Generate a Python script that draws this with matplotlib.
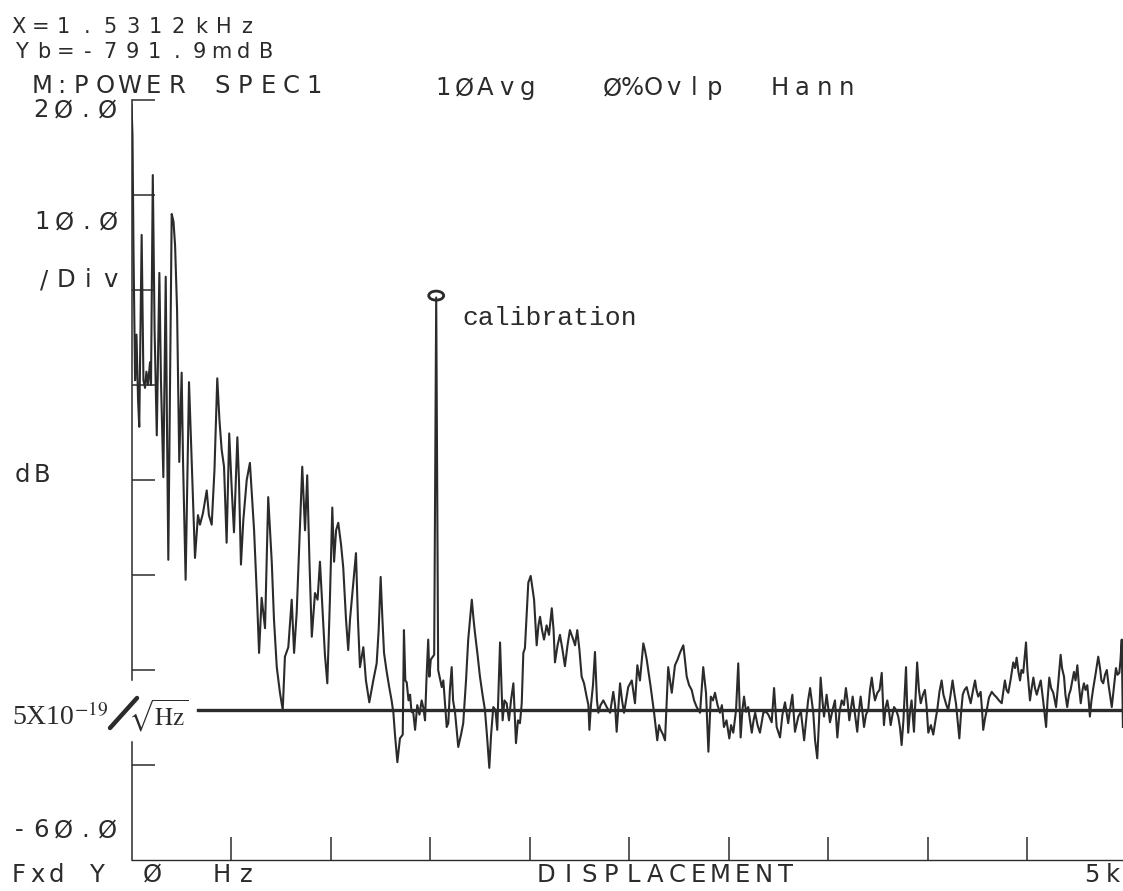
import numpy as np
import matplotlib.pyplot as plt
from matplotlib.lines import Line2D
from matplotlib.patches import Ellipse

plt.rcParams['mathtext.fontset'] = 'stix'

# marker readout and noise floor
marker_freq = 1531.2      # Hz
marker_db = -0.7919       # dB
floor_db = -44.2
floor_start_hz = 335

# displacement power spectrum, 0 - 5 kHz
freq_hz = [
    0, 5, 10, 18, 25, 33, 39, 51, 60, 68,
    75, 83, 93, 98, 107, 116, 127, 140, 148, 160,
    172, 178, 185, 202, 211, 219, 229, 240, 252, 259,
    272, 289, 304, 319, 334, 344, 359, 378, 389, 403,
    417, 431, 442, 453, 465, 478, 491, 504, 515, 532,
    540, 550, 562, 579, 595, 616, 631, 641, 654, 661,
    671, 687, 705, 716, 730, 746, 760, 771, 788, 805,
    817, 830, 844, 858, 872, 883, 894, 906, 922, 935,
    947, 961, 972, 984, 997, 1009, 1018, 1028, 1039, 1053,
    1064, 1078, 1089, 1098, 1107, 1118, 1128, 1138, 1148, 1165,
    1178, 1195, 1215, 1232, 1242, 1252, 1261, 1269, 1281, 1295,
    1307, 1316, 1324, 1336, 1344, 1349, 1363, 1369, 1376, 1383,
    1392, 1400, 1407, 1416, 1425, 1436, 1447, 1458, 1467, 1475,
    1482, 1491, 1497, 1504, 1521, 1531.2, 1541, 1559, 1567, 1584,
    1592, 1600, 1609, 1616, 1626, 1642, 1656, 1667, 1681, 1692,
    1710, 1719, 1726, 1739, 1751, 1764, 1776, 1786, 1798, 1807,
    1818, 1829, 1838, 1852, 1865, 1874, 1885, 1897, 1907, 1919,
    1932, 1942, 1952, 1961, 1969, 1977, 1986, 1994, 2006, 2013,
    2023, 2036, 2045, 2053, 2063, 2073, 2086, 2098, 2112, 2121,
    2128, 2141, 2153, 2166, 2178, 2191, 2203, 2220, 2229, 2240,
    2251, 2262, 2274, 2287, 2296, 2301, 2309, 2319, 2329, 2339,
    2346, 2357, 2371, 2388, 2405, 2421, 2430, 2438, 2455, 2465,
    2475, 2485, 2496, 2514, 2530, 2542, 2555, 2572, 2580, 2589,
    2598, 2609, 2626, 2642, 2651, 2659, 2671, 2681, 2697, 2706,
    2715, 2731, 2744, 2756, 2773, 2781, 2790, 2802, 2815, 2827,
    2840, 2857, 2873, 2887, 2899, 2911, 2922, 2932, 2945, 2957,
    2967, 2977, 2990, 3004, 3013, 3024, 3038, 3049, 3061, 3070,
    3078, 3088, 3099, 3108, 3117, 3126, 3134, 3146, 3158, 3175,
    3189, 3200, 3217, 3229, 3242, 3259, 3271, 3284, 3300, 3309,
    3321, 3334, 3351, 3364, 3380, 3390, 3400, 3410, 3426, 3435,
    3446, 3455, 3463, 3472, 3480, 3493, 3510, 3523, 3535, 3547,
    3558, 3569, 3580, 3590, 3598, 3607, 3616, 3624, 3636, 3647,
    3656, 3664, 3673, 3681, 3691, 3702, 3711, 3720, 3729, 3736,
    3748, 3759, 3770, 3781, 3789, 3798, 3807, 3815, 3824, 3832,
    3842, 3853, 3862, 3870, 3879, 3884, 3892, 3897, 3903, 3912,
    3920, 3932, 3939, 3948, 3957, 3966, 3977, 3987, 3995, 4004,
    4017, 4029, 4040, 4049, 4060, 4071, 4080, 4088, 4095, 4104,
    4116, 4126, 4136, 4143, 4151, 4160, 4168, 4177, 4186, 4197,
    4206, 4217, 4229, 4239, 4246, 4255, 4267, 4274, 4280, 4289,
    4298, 4309, 4323, 4334, 4348, 4359, 4373, 4382, 4389, 4397,
    4406, 4417, 4431, 4440, 4448, 4457, 4465, 4472, 4481, 4487,
    4495, 4502, 4515, 4522, 4532, 4540, 4549, 4558, 4569, 4581,
    4596, 4603, 4612, 4621, 4632, 4646, 4656, 4669, 4676, 4686,
    4693, 4702, 4711, 4719, 4728, 4736, 4744, 4753, 4761, 4770,
    4779, 4786, 4794, 4803, 4810, 4816, 4824, 4833, 4844, 4858,
    4867, 4874, 4883, 4892, 4901, 4910, 4917, 4926, 4935, 4947,
    4955, 4964, 4970, 4976, 4982,
]
level_db = [
    19.5, 16.3, 4.2, -9.5, -4.7, -11.6, -14.4, 5.8, -9.5, -10.3,
    -8.6, -10.0, -7.6, -10.0, 12.1, -4.2, -15.3, 1.8, -9.5, -19.7,
    1.4, -13.7, -28.4, 8.0, 7.2, 4.7, -2.1, -18.1, -8.7, -18.1,
    -30.5, -9.7, -18.9, -28.2, -23.7, -24.7, -23.5, -21.1, -23.7, -24.7,
    -18.9, -9.3, -13.7, -16.8, -18.6, -26.6, -15.1, -21.1, -25.5, -15.5,
    -20.0, -28.9, -24.2, -20.0, -18.2, -25.3, -32.6, -38.2, -32.4, -33.7,
    -35.6, -21.8, -28.7, -34.7, -39.7, -42.4, -44.2, -38.6, -37.6, -32.6,
    -38.2, -34.0, -26.3, -18.6, -25.3, -19.5, -28.4, -36.5, -31.9, -32.6,
    -28.6, -34.0, -38.4, -41.4, -32.6, -22.9, -28.6, -25.3, -24.5, -26.8,
    -29.2, -34.7, -37.9, -34.7, -32.6, -30.0, -27.7, -34.7, -39.7, -37.6,
    -41.1, -43.4, -41.1, -39.3, -35.8, -30.2, -34.7, -38.2, -40.0, -41.8,
    -43.2, -44.5, -46.8, -49.7, -48.2, -47.2, -46.8, -35.8, -41.1, -41.3,
    -43.2, -42.6, -44.4, -44.5, -46.3, -43.7, -44.7, -43.2, -44.0, -45.3,
    -41.1, -36.8, -40.7, -38.9, -38.4, -0.7919, -40.0, -41.8, -41.1, -46.0,
    -45.6, -42.1, -39.7, -43.2, -44.5, -48.1, -46.8, -45.6, -41.1, -36.8,
    -32.6, -34.7, -36.1, -38.4, -40.7, -42.6, -44.2, -46.8, -50.3, -46.8,
    -43.9, -44.2, -46.3, -37.1, -45.3, -43.2, -43.5, -45.3, -43.2, -41.4,
    -47.7, -45.3, -45.6, -43.5, -38.2, -37.7, -34.0, -30.8, -30.1, -31.1,
    -32.6, -37.4, -35.3, -34.4, -35.8, -36.8, -35.3, -36.3, -33.5, -35.8,
    -39.2, -37.4, -36.3, -37.9, -39.6, -37.4, -35.8, -36.8, -37.4, -35.8,
    -37.9, -40.7, -41.4, -42.8, -43.7, -46.3, -43.7, -41.6, -38.1, -43.2,
    -44.5, -43.7, -43.2, -43.9, -44.5, -42.3, -43.7, -46.5, -41.4, -43.2,
    -44.5, -43.2, -41.8, -41.1, -43.5, -39.5, -41.1, -37.2, -37.9, -38.9,
    -40.2, -41.8, -44.5, -47.4, -45.8, -46.3, -46.8, -47.4, -39.7, -41.1,
    -42.4, -39.5, -38.9, -38.2, -37.4, -38.9, -40.7, -41.6, -42.1, -43.2,
    -43.9, -44.5, -39.7, -42.4, -48.6, -42.8, -43.2, -42.4, -43.7, -44.5,
    -43.7, -46.0, -45.3, -47.2, -45.8, -46.6, -44.2, -39.3, -47.1, -44.2,
    -42.8, -44.4, -43.9, -45.3, -46.6, -45.3, -44.5, -45.8, -46.6, -44.5,
    -44.4, -44.7, -45.5, -41.9, -46.0, -47.1, -44.7, -43.4, -45.6, -44.2,
    -42.6, -46.5, -44.9, -44.4, -47.4, -45.3, -43.2, -41.9, -44.5, -47.4,
    -49.3, -45.3, -40.8, -43.2, -44.9, -42.6, -45.5, -44.2, -43.2, -47.1,
    -44.4, -43.2, -43.7, -41.9, -43.2, -45.3, -44.0, -42.8, -44.7, -46.5,
    -44.2, -42.8, -44.4, -46.0, -44.7, -44.2, -42.1, -40.8, -42.3, -43.2,
    -42.4, -42.1, -40.3, -45.8, -44.0, -43.2, -44.4, -45.8, -44.7, -43.9,
    -44.2, -44.9, -46.1, -47.9, -45.3, -43.2, -39.7, -43.2, -46.6, -44.4,
    -43.2, -46.5, -43.2, -39.2, -42.1, -43.5, -42.6, -42.1, -43.7, -46.6,
    -45.8, -46.8, -45.3, -44.2, -42.3, -41.1, -42.6, -43.2, -43.7, -44.2,
    -42.6, -41.1, -42.6, -43.5, -45.3, -47.2, -44.7, -42.6, -42.1, -41.8,
    -42.6, -43.5, -42.1, -41.1, -42.1, -42.8, -42.3, -44.2, -46.3, -45.1,
    -44.2, -42.9, -42.3, -42.6, -42.9, -43.2, -43.5, -42.1, -41.1, -42.1,
    -42.4, -41.1, -39.2, -39.8, -38.7, -40.2, -41.1, -40.0, -40.3, -38.9,
    -37.1, -40.0, -43.2, -42.1, -40.8, -41.9, -42.6, -41.9, -41.1, -43.2,
    -46.0, -43.2, -40.8, -41.9, -42.4, -43.9, -41.6, -38.4, -39.8, -40.7,
    -42.6, -43.9, -42.6, -42.1, -41.1, -40.2, -41.1, -39.5, -41.6, -43.5,
    -42.1, -41.4, -42.1, -41.6, -43.2, -44.9, -43.2, -41.9, -40.5, -38.6,
    -39.8, -41.1, -41.4, -40.5, -40.0, -41.6, -42.6, -43.9, -42.1, -39.8,
    -40.5, -40.3, -38.9, -36.8, -46.0,
]

INK = '#2b2b2b'
W, H = 1123, 891


def fx(x):
    return x / W


def fy(y):
    return 1 - y / H


fig = plt.figure(figsize=(W / 100, H / 100), dpi=100)
fig.patch.set_facecolor('white')

ax = fig.add_axes([fx(131.5), fy(860), 995 / W, 760 / H])
ax.set_xlim(0, 5000)
ax.set_ylim(-60, 20)
for side in ['top', 'right', 'left']:
    ax.spines[side].set_visible(False)
ax.spines['bottom'].set_linewidth(1.0)
ax.spines['bottom'].set_color(INK)
ax.set_xticks(np.arange(500, 5000, 500))
ax.set_yticks(np.arange(-50, 30, 10))
ax.tick_params(direction='in', length=16.5, width=1.1, color=INK,
               labelbottom=False, labelleft=False)

# left axis, broken where the scale note sits
ax.plot([0, 0], [-60, -47.6], color=INK, lw=1.1, clip_on=False)
ax.plot([0, 0], [-41.1, 20], color=INK, lw=1.1, clip_on=False)

ax.plot(freq_hz, level_db, color=INK, lw=1.5)
ax.plot([floor_start_hz, 5000], [floor_db, floor_db], color=INK, lw=2.4)
ax.add_patch(Ellipse((marker_freq, marker_db + 0.2), 75, 0.95,
                     fill=False, ec=INK, lw=2))


def plotter(x, y, s, pitch, size=17.5):
    # fixed-pitch analyzer lettering, x is the centre of the first cell
    for i, ch in enumerate(s):
        if ch != ' ':
            fig.text(fx(x + i * pitch), fy(y), ch, ha='center', va='baseline',
                     fontsize=size, color=INK, family='DejaVu Sans')


plotter(18, 33, f"X={marker_freq / 1000:.4f}kHz", 22.9, size=15)
plotter(21, 58, f"Yb={marker_db * 1000:.1f}mdB", 22.3, size=15)
plotter(42, 93, "M:", 19)
plotter(81, 93, "POWER", 24)
plotter(222, 93, "SPEC1", 23)
plotter(443, 95, "1ØAvg", 21)
plotter(612, 95, "Ø%Ovlp", 20.5)
plotter(780, 95, "Hann", 22)

plotter(41, 117, "2Ø.Ø", 22)
plotter(42, 229, "1Ø.Ø", 22)
plotter(44, 287, "/Div", 22)
plotter(22, 482, "dB", 20)
plotter(19, 837, "-6Ø.Ø", 22)

plotter(19, 882, "Fxd", 18.5)
plotter(97, 882, "Y", 20)
plotter(152, 882, "Ø", 20)
plotter(222, 882, "Hz", 24.5)
plotter(546, 882, "DISPLACEMENT", 21.8)
plotter(1092, 882, "5k", 21)

# hand-lettered notes
fig.text(fx(462), fy(325), "calibration", family='Liberation Mono',
         fontsize=19, color=INK, va='baseline')
fig.text(fx(12), fy(725), "5X10$^{-19}$", family='Liberation Serif',
         fontsize=20, color=INK, va='baseline')
fig.add_artist(Line2D([fx(110), fx(137)], [fy(728), fy(698)], lw=3.2,
                      color=INK, solid_capstyle='round'))
fig.text(fx(128), fy(726), r"$\sqrt{\mathrm{Hz}}$", fontsize=18,
         color=INK, va='baseline')

fig.savefig('out.png', dpi=100)
